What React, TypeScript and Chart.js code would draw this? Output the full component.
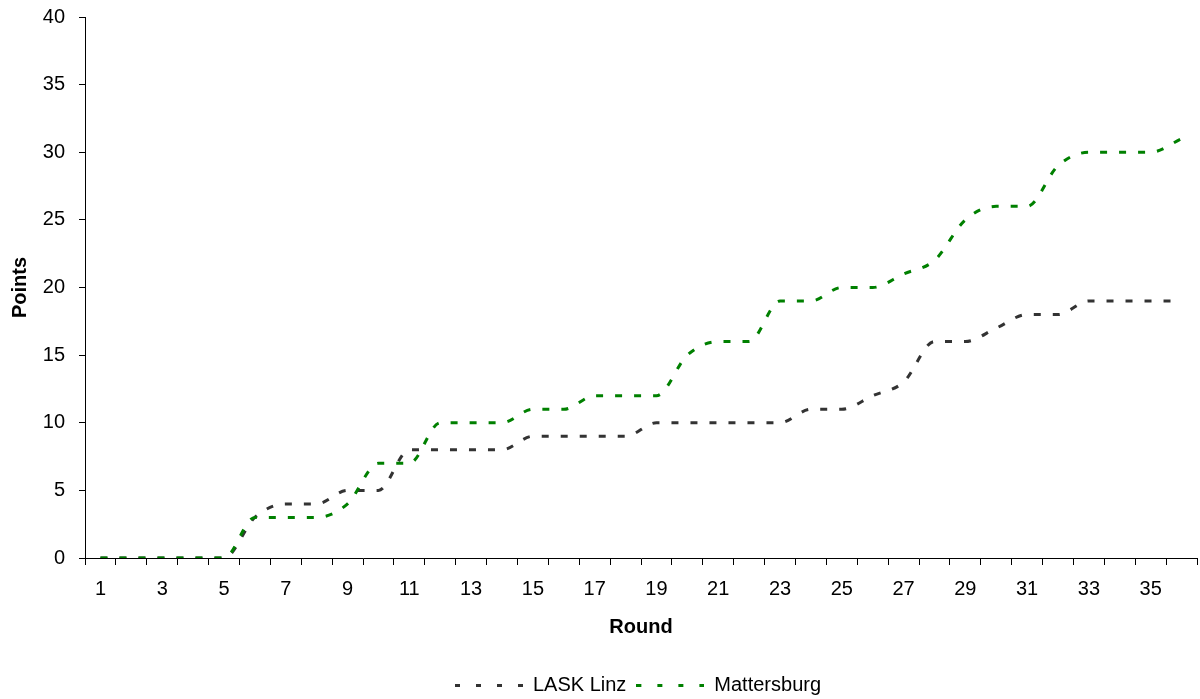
import { useEffect, useRef } from 'react';
import { Chart, registerables } from 'chart.js';

Chart.register(...registerables);

const rounds = ['1', '2', '3', '4', '5', '6', '7', '8', '9', '10', '11', '12', '13', '14', '15', '16', '17', '18', '19', '20', '21', '22', '23', '24', '25', '26', '27', '28', '29', '30', '31', '32', '33', '34', '35', '36'];
const laskLinz = [0, 0, 0, 0, 0, 3, 4, 4, 5, 5, 8, 8, 8, 8, 9, 9, 9, 9, 10, 10, 10, 10, 10, 11, 11, 12, 13, 16, 16, 17, 18, 18, 19, 19, 19, 19];
const mattersburg = [0, 0, 0, 0, 0, 3, 3, 3, 4, 7, 7, 10, 10, 10, 11, 11, 12, 12, 12, 15, 16, 16, 19, 19, 20, 20, 21, 22, 25, 26, 26, 29, 30, 30, 30, 31];
const seriesNames = ['LASK Linz', 'Mattersburg'];
const seriesColors = ['#333333', '#008000'];

const FONT = "'Liberation Sans', Arial, sans-serif";

function legendSample(color: string): HTMLCanvasElement {
  const c = document.createElement('canvas');
  c.width = 68;
  c.height = 3;
  const ctx = c.getContext('2d')!;
  ctx.fillStyle = color;
  for (let x = 0; x < 68; x += 21) ctx.fillRect(x, 0, 5, 3);
  return c;
}

const legendShift = {
  id: 'legendShift',
  afterLayout(chart: any) {
    const lg = chart.legend;
    if (!lg) return;
    const target = 638;
    const dx = target - (lg.left + lg.right) / 2;
    lg.left += dx;
    lg.right += dx;
    lg.top += 6;
    lg.bottom += 6;
  },
};

export default function App() {
  const ref = useRef<HTMLCanvasElement | null>(null);

  useEffect(() => {
    if (!ref.current) return;
    const mk = (i: number, data: number[], order: number) => ({
      label: seriesNames[i],
      data,
      borderColor: seriesColors[i],
      backgroundColor: seriesColors[i],
      borderWidth: 3,
      borderDash: [7, 12],
      pointRadius: 0,
      pointStyle: legendSample(seriesColors[i]),
      cubicInterpolationMode: 'monotone',
      fill: false,
      order,
    });
    const chart = new Chart(ref.current, {
      type: 'line',
      data: {
        labels: rounds,
        datasets: [mk(0, laskLinz, 1), mk(1, mattersburg, 0)] as any,
      },
      plugins: [legendShift],
      options: {
        responsive: false,
        animation: false,
        layout: { padding: { top: 17, right: 3, left: 0, bottom: 0 } },
        plugins: {
          tooltip: { enabled: false },
          legend: {
            position: 'bottom',
            labels: {
              usePointStyle: true,
              pointStyleWidth: 68,
              padding: 10,
              color: '#000',
              font: { family: FONT, size: 20 },
              sort: (a: any, b: any) => a.datasetIndex - b.datasetIndex,
            },
          },
        },
        scales: {
          x: {
            type: 'category',
            offset: true,
            grid: {
              offset: true,
              drawOnChartArea: false,
              drawTicks: true,
              tickLength: 7,
              color: '#000',
            },
            border: { display: true, color: '#000', width: 1 },
            ticks: {
              autoSkip: false,
              maxRotation: 0,
              padding: 12,
              color: '#000',
              font: { family: FONT, size: 20 },
              callback: (_v: any, i: number) => (i % 2 === 0 ? rounds[i] : ''),
            },
            title: {
              display: true,
              text: 'Round',
              color: '#000',
              font: { family: FONT, size: 20, weight: 'bold' },
              padding: { top: 0, bottom: 20 },
            },
            afterFit: (s: any) => {
              s.height = 101;
              s.paddingLeft = 0;
              s.paddingRight = 0;
            },
          },
          y: {
            min: 0,
            max: 40,
            grid: {
              drawOnChartArea: false,
              drawTicks: true,
              tickLength: 6,
              color: '#000',
            },
            border: { display: true, color: '#000', width: 1 },
            ticks: {
              stepSize: 5,
              padding: 14,
              color: '#000',
              font: { family: FONT, size: 20 },
            },
            title: {
              display: true,
              text: 'Points',
              color: '#000',
              font: { family: FONT, size: 20, weight: 'bold' },
              padding: { top: 8, bottom: 0 },
            },
            afterFit: (s: any) => {
              s.width = 85;
              s.paddingTop = 0;
              s.paddingBottom = 0;
            },
          },
        },
      },
    });
    return () => chart.destroy();
  }, []);

  return (
    <div style={{ position: 'absolute', left: 0, top: 0, width: 1200, height: 699, background: '#fff' }}>
      <canvas ref={ref} width={1200} height={699} style={{ display: 'block' }} />
    </div>
  );
}
